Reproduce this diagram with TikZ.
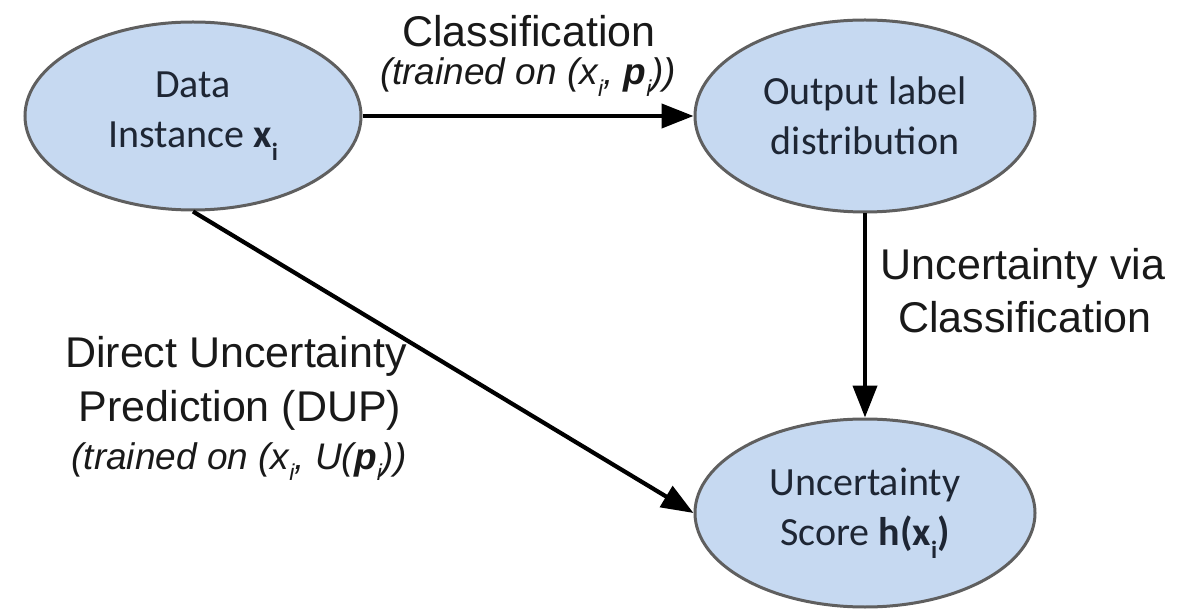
\documentclass[tikz,border=0pt]{standalone}
\usepackage{fontspec}
\setmainfont{Carlito}
\newfontfamily\labelfont{Liberation Sans}
\usetikzlibrary{shapes.geometric,arrows.meta}

\definecolor{nodefill}{RGB}{198,217,241}
\definecolor{nodeline}{RGB}{95,95,95}
\definecolor{nodetext}{RGB}{30,38,52}
\definecolor{labeltext}{RGB}{25,25,25}

% lowered subscript used inside the labels
\newcommand{\lowsub}[1]{\raisebox{-0.32em}{\scalebox{0.62}{#1}}}

\begin{document}
\begin{tikzpicture}[
  x=1pt, y=-1pt,
  state/.style={ellipse, draw=nodeline, line width=3pt, fill=nodefill,
    inner sep=0pt, text=nodetext, align=center,
    font=\fontsize{40}{50}\selectfont},
  flow/.style={line width=4.2pt, draw=black,
    -{Triangle[length=32pt, width=24pt]}},
  edgelabel/.style={anchor=base, text=labeltext, inner sep=0pt,
    font=\labelfont\fontsize{43}{50}\selectfont},
  edgenote/.style={anchor=base, text=labeltext, inner sep=0pt,
    font=\labelfont\itshape\fontsize{37}{44}\selectfont}
]
\useasboundingbox (0,0) rectangle (1191,609);

% states
\node[state, minimum width=336pt, minimum height=188pt] (data) at (193,116)
  {Data\\Instance \textbf{x}\lowsub{\textbf{i}}};
\node[state, minimum width=340pt, minimum height=192pt] (out) at (865,116)
  {Output label\\distribution};
\node[state, minimum width=340pt, minimum height=188pt] (score) at (865,513)
  {Uncertainty\\Score \textbf{h(x}\lowsub{\textbf{i}}\textbf{)}};

% transitions
\draw[flow] (data.east) -- (out.west);
\draw[flow] (out.south) -- (score.north);
\draw[flow] (data.south) -- (score.west);

% labels of the transitions
\node[edgelabel] (clsA) at (529,47) {Classification};
\node[edgenote] (clsB) at (528,85)
  {(trained on (x\lowsub{i}, \textbf{p}\lowsub{i}))};

\node[edgelabel] (viaA) at (1023,280) {Uncertainty via};
\node[edgelabel] (viaB) at (1025,333) {Classification};

\node[edgelabel] (dupA) at (236,367) {Direct Uncertainty};
\node[edgelabel] (dupB) at (240,421) {Prediction (DUP)};
\node[edgenote] (dupC) at (239,469)
  {(trained on (x\lowsub{i}, U(\textbf{p}\lowsub{i}))};
\end{tikzpicture}
\end{document}
